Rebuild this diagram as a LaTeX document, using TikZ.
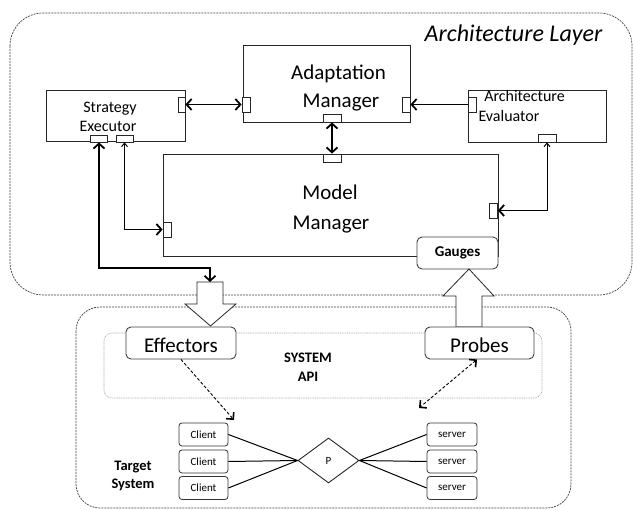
\documentclass[tikz,border=0pt]{standalone}
\usepackage{fontspec}
\setmainfont{Carlito}
\usetikzlibrary{arrows.meta,shapes.geometric,calc}
\tikzset{
  comp/.style={draw=black!85, line width=0.9pt, fill=white, inner sep=0},
  prt/.style={draw=black!85, line width=0.8pt, fill=white, inner sep=0},
  pill/.style={draw=black!75, line width=0.9pt, fill=white, rounded corners=5pt, inner sep=0},
  small/.style={draw=black!80, line width=0.8pt, fill=white, rounded corners=3pt, inner sep=0, minimum height=23pt},
  bigarrow/.style={draw=black!85, line width=0.8pt, fill=white},
  conn/.style={line width=1.3pt},
  thinconn/.style={line width=1pt},
  lbl/.style={anchor=base, inner sep=0},
  boundary/.style={draw=black!75, line width=0.7pt, dash pattern=on 2pt off 1pt},
  bigtip/.tip={Straight Barb[length=5pt,width=11pt,line width=1.8pt]},
  smalltip/.tip={Straight Barb[length=3.5pt,width=6pt,line width=1pt]},
}
\begin{document}
\begin{tikzpicture}[x=1pt,y=-1pt]
\useasboundingbox (0,0) rectangle (633,510);
% layers
\draw[boundary, rounded corners=33pt] (10,13) rectangle (632,295);
\draw[boundary, rounded corners=24pt] (76,307) rectangle (571,508);
\draw[draw=black!35, line width=0.6pt, dash pattern=on 1pt off 0.8pt, rounded corners=8pt] (104,333) rectangle (542,398);
\node[lbl, font=\fontsize{24}{28}\selectfont\itshape] (title) at (513.5,42) {Architecture Layer};

% components
\node[comp, minimum width=167pt, minimum height=77pt] (am) at (326.5,83.5) {};
\node[lbl, font=\fontsize{21}{25}\selectfont] (amt1) at (338.5,80) {Adaptation};
\node[lbl, font=\fontsize{21}{25}\selectfont] (amt2) at (341,108) {Manager};

\node[comp, minimum width=139pt, minimum height=51pt] (se) at (115.5,115.5) {};
\node[lbl, font=\fontsize{16}{19}\selectfont] (set1) at (110,113) {Strategy};
\node[lbl, font=\fontsize{16}{19}\selectfont] (set2) at (108,132) {Executor};

\node[comp, minimum width=138pt, minimum height=52pt] (ae) at (537,116) {};
\node[lbl, font=\fontsize{16}{19}\selectfont] (aet1) at (524.5,102) {Architecture};
\node[lbl, font=\fontsize{16}{19}\selectfont] (aet2) at (509,122) {Evaluator};

\node[comp, minimum width=335pt, minimum height=102pt] (mm) at (330.5,205) {};
\node[lbl, font=\fontsize{21}{25}\selectfont] (mmt1) at (330,200) {Model};
\node[lbl, font=\fontsize{21}{25}\selectfont] (mmt2) at (331,230) {Manager};

\node[pill, minimum width=81pt, minimum height=32pt, font=\fontsize{15}{18}\selectfont\bfseries] (gauges) at (457.5,253) {Gauges};

% ports
\node[prt, minimum width=7pt, minimum height=15pt] (sePR) at (181.5,104.5) {};
\node[prt, minimum width=8pt, minimum height=15pt] (amPL) at (246,104.5) {};
\node[prt, minimum width=8pt, minimum height=15pt] (amPR) at (406,104.5) {};
\node[prt, minimum width=8pt, minimum height=15pt] (aePL) at (472,104.5) {};
\node[prt, minimum width=18pt, minimum height=8pt] (amPB) at (332,118) {};
\node[prt, minimum width=18pt, minimum height=8pt] (mmPT) at (332,158) {};
\node[prt, minimum width=8pt, minimum height=15pt] (mmPL) at (167,229.5) {};
\node[prt, minimum width=8pt, minimum height=15pt] (mmPR) at (493.5,210.5) {};
\node[prt, minimum width=17pt, minimum height=7pt] (sePB1) at (99,138.5) {};
\node[prt, minimum width=17pt, minimum height=7pt] (sePB2) at (124.5,138.5) {};
\node[prt, minimum width=18pt, minimum height=8pt] (aePB) at (547,138) {};

% connectors in architecture layer
\draw[conn, bigtip-bigtip] (sePR.east) -- (amPL.west);
\draw[conn, -bigtip] (aePL.west) -- (amPR.east);
\draw[conn, bigtip-bigtip] (amPB.south) -- (mmPT.north);
\draw[thinconn, smalltip-bigtip] (aePB.south) |- (mmPR.east);
\draw[thinconn, smalltip-bigtip] (sePB2.south) |- (mmPL.west);

% big arrows
\draw[bigarrow] (197,282) -- (223,282) -- (223,304) -- (236,304) -- (210.5,326) -- (185,304) -- (197,304) -- cycle;
\draw[bigarrow] (469,269) -- (494,296) -- (482,296) -- (482,327) -- (456,327) -- (456,296) -- (443,296) -- cycle;
\coordinate (efftop) at (210,282);
\draw[conn, bigtip-bigtip] (sePB1.south) |- ($(efftop)+(0,-14)$) -- (efftop);

% effectors / probes
\node[pill, minimum width=110pt, minimum height=32pt] (eff) at (181,343) {};
\node[lbl, font=\fontsize{21}{25}\selectfont] (efft) at (181,353) {Effectors};
\node[pill, minimum width=109pt, minimum height=32pt] (prb) at (479.5,343) {};
\node[lbl, font=\fontsize{21}{25}\selectfont] (prbt) at (479.5,353) {Probes};

\node[lbl, font=\fontsize{14.5}{18}\selectfont\bfseries] (api1) at (308,363) {SYSTEM};
\node[lbl, font=\fontsize{14.5}{18}\selectfont\bfseries] (api2) at (308,382) {API};

% target system
\node[lbl, font=\fontsize{14.5}{18}\selectfont\bfseries] (ts1) at (133,470.5) {Target};
\node[lbl, font=\fontsize{14.5}{18}\selectfont\bfseries] (ts2) at (133,488.5) {System};

\node[small, minimum width=49pt, font=\fontsize{11}{13}\selectfont] (c1) at (203.5,434.5) {Client};
\node[small, minimum width=49pt, font=\fontsize{11}{13}\selectfont] (c2) at (203.5,461.5) {Client};
\node[small, minimum width=49pt, font=\fontsize{11}{13}\selectfont] (c3) at (203.5,488) {Client};
\node[small, minimum width=50pt, font=\fontsize{11}{13}\selectfont] (s1) at (452,434.5) {server};
\node[small, minimum width=50pt, font=\fontsize{11}{13}\selectfont] (s2) at (452,461.5) {server};
\node[small, minimum width=50pt, font=\fontsize{11}{13}\selectfont] (s3) at (452,488) {server};
\node[diamond, draw=black!85, line width=0.9pt, inner sep=0, minimum width=61pt, minimum height=45pt, font=\fontsize{11}{13}\selectfont] (p) at (328.5,460.5) {P};

\foreach \c in {c1,c2,c3} \draw[thinconn] (\c.east) -- (p.west);
\foreach \s in {s1,s2,s3} \draw[thinconn] (\s.west) -- (p.east);

% dashed monitoring arrows
\coordinate (effend) at (234,420);
\coordinate (prbend) at (419,408);
\draw[line width=0.9pt, dash pattern=on 3pt off 2pt, -{Straight Barb[length=5pt,width=10pt,line width=1.6pt]}] (eff.south) -- (effend);
\draw[line width=0.9pt, dash pattern=on 3pt off 2pt, {Straight Barb[length=5pt,width=10pt,line width=1.6pt]}-{Straight Barb[length=5pt,width=10pt,line width=1.6pt]}] ($(prb.south)+(-2.5,0)$) -- (prbend);
\end{tikzpicture}
\end{document}
